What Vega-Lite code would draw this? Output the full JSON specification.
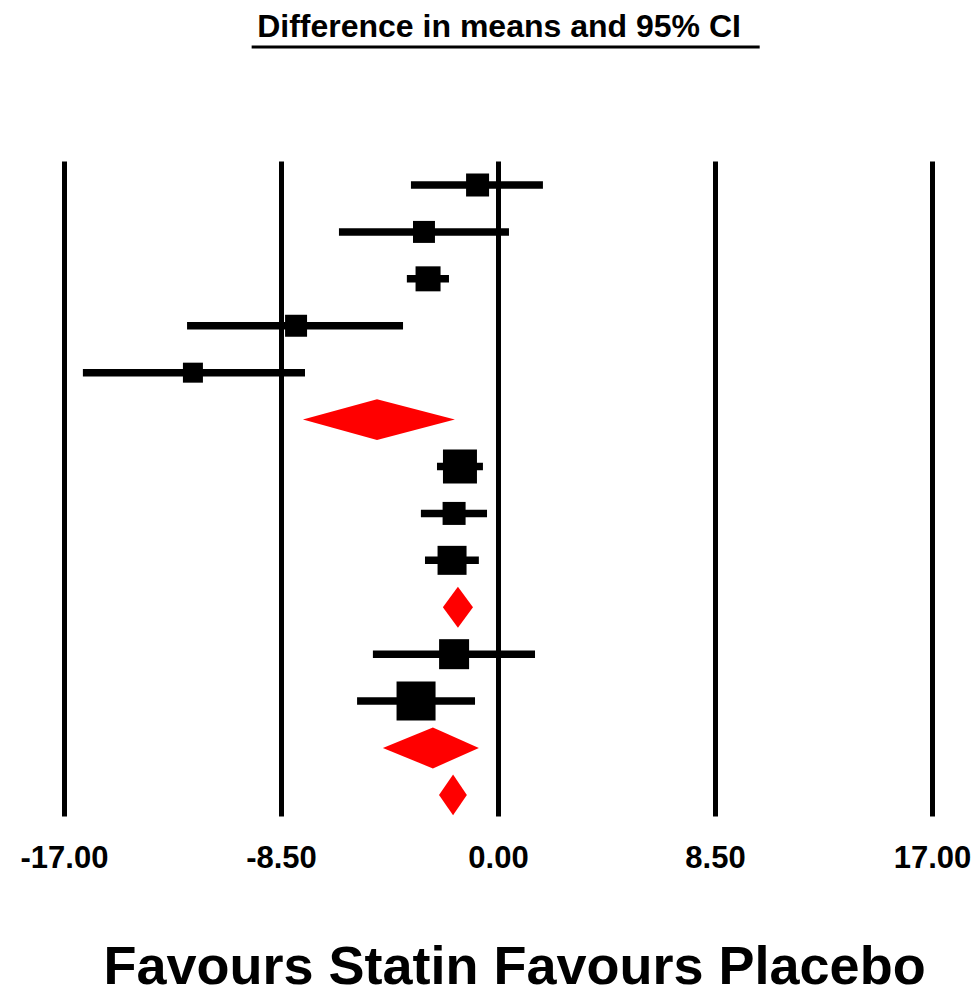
{
  "$schema": "https://vega.github.io/schema/vega-lite/v6.json",
  "width": 868,
  "height": 655,
  "autosize": {"type": "none"},
  "padding": {"left": 64, "top": 161, "right": 45, "bottom": 181},
  "background": "white",
  "config": {"view": {"stroke": null}},
  "datasets": {
    "rows": [
      {"study": "Study 1", "type": "study", "row": 1, "est": -0.80, "lo": -3.41, "hi": 1.76, "weight": 34.8},
      {"study": "Study 2", "type": "study", "row": 2, "est": -2.90, "lo": -6.23, "hi": 0.43, "weight": 31.8},
      {"study": "Study 3", "type": "study", "row": 3, "est": -2.74, "lo": -3.57, "hi": -1.92, "weight": 41.1},
      {"study": "Study 4", "type": "study", "row": 4, "est": -7.91, "lo": -12.18, "hi": -3.72, "weight": 31.8},
      {"study": "Study 5", "type": "study", "row": 5, "est": -11.95, "lo": -16.26, "hi": -7.56, "weight": 26.3},
      {"study": "Subgroup 1", "type": "summary", "row": 6, "est": -4.74, "lo": -7.64, "hi": -1.69},
      {"study": "Study 6", "type": "study", "row": 7, "est": -1.49, "lo": -2.39, "hi": -0.59, "weight": 76.0},
      {"study": "Study 7", "type": "study", "row": 8, "est": -1.72, "lo": -3.02, "hi": -0.43, "weight": 34.8},
      {"study": "Study 8", "type": "study", "row": 9, "est": -1.80, "lo": -2.86, "hi": -0.75, "weight": 55.3},
      {"study": "Subgroup 2", "type": "summary", "row": 10, "est": -1.57, "lo": -2.16, "hi": -0.98},
      {"study": "Study 9", "type": "study", "row": 11, "est": -1.72, "lo": -4.90, "hi": 1.45, "weight": 59.2},
      {"study": "Study 10", "type": "study", "row": 12, "est": -3.21, "lo": -5.52, "hi": -0.90, "weight": 100},
      {"study": "Subgroup 3", "type": "summary", "row": 13, "est": -2.55, "lo": -4.51, "hi": -0.75},
      {"study": "Overall", "type": "summary", "row": 14, "est": -1.76, "lo": -2.31, "hi": -1.22}
    ],
    "heading": [
      {"title": "Difference in means and 95% CI"}
    ]
  },
  "layer": [
    {
      "data": {"name": "rows"},
      "transform": [{"filter": "datum.type === 'study'"}],
      "mark": {"type": "rule", "color": "black", "strokeWidth": 7.5, "strokeCap": "butt"},
      "encoding": {
        "x": {
          "field": "lo",
          "type": "quantitative",
          "scale": {"domain": [-17, 17], "nice": false, "zero": false},
          "axis": {
            "values": [-17, -8.5, 0, 8.5, 17],
            "grid": true,
            "gridColor": "black",
            "gridWidth": 5,
            "gridOpacity": 1,
            "domain": false,
            "ticks": false,
            "tickSize": 0,
            "labelPadding": 51,
            "labelBaseline": "alphabetic",
            "labelFont": "Liberation Sans",
            "labelFontSize": 31,
            "labelFontWeight": "bold",
            "labelColor": "black",
            "labelFlush": false,
            "labelOverlap": false,
            "labelExpr": "datum.value < 0 ? '-' + format(-datum.value, '.2f') : format(datum.value, '.2f')",
            "title": "Favours Statin Favours Placebo",
            "titleX": 450,
            "titleY": 167,
            "titleAlign": "center",
            "titleBaseline": "alphabetic",
            "titleFont": "Liberation Sans",
            "titleFontSize": 54,
            "titleFontWeight": "bold",
            "titleColor": "black"
          }
        },
        "x2": {"field": "hi"},
        "y": {
          "field": "row",
          "type": "quantitative",
          "scale": {"domain": [0.4885, 14.449], "reverse": true, "nice": false, "zero": false},
          "axis": null
        }
      }
    },
    {
      "data": {"name": "rows"},
      "transform": [{"filter": "datum.type === 'study'"}],
      "mark": {"type": "square", "filled": true, "color": "black", "opacity": 1},
      "encoding": {
        "x": {"field": "est", "type": "quantitative"},
        "y": {"field": "row", "type": "quantitative", "axis": null},
        "size": {
          "field": "weight",
          "type": "quantitative",
          "scale": {"domain": [0, 100], "range": [0, 1521]},
          "legend": null
        }
      }
    },
    {
      "data": {"name": "rows"},
      "transform": [
        {"filter": "datum.type === 'summary'"},
        {"fold": ["lo", "est", "hi"], "as": ["vertex", "xv"]},
        {"calculate": "datum.vertex === 'est' ? datum.row - 0.435 : datum.row", "as": "top"},
        {"calculate": "datum.vertex === 'est' ? datum.row + 0.435 : datum.row", "as": "bottom"}
      ],
      "mark": {"type": "area", "orient": "vertical", "color": "#FF0000", "opacity": 1, "interpolate": "linear"},
      "encoding": {
        "x": {"field": "xv", "type": "quantitative"},
        "y": {"field": "top", "type": "quantitative", "axis": null},
        "y2": {"field": "bottom"},
        "detail": {"field": "row", "type": "nominal"}
      }
    },
    {
      "data": {"name": "heading"},
      "mark": {"type": "rule", "color": "black", "strokeWidth": 3},
      "encoding": {
        "x": {"datum": -9.65, "type": "quantitative"},
        "x2": {"datum": 10.25},
        "y": {"datum": -1.94, "type": "quantitative"}
      }
    },
    {
      "data": {"name": "heading"},
      "mark": {
        "type": "text",
        "font": "Liberation Sans",
        "fontSize": 32,
        "fontWeight": "bold",
        "color": "black",
        "align": "center",
        "baseline": "alphabetic"
      },
      "encoding": {
        "x": {"datum": 0.04, "type": "quantitative"},
        "y": {"datum": -2.154, "type": "quantitative"},
        "text": {"field": "title"}
      }
    }
  ]
}
